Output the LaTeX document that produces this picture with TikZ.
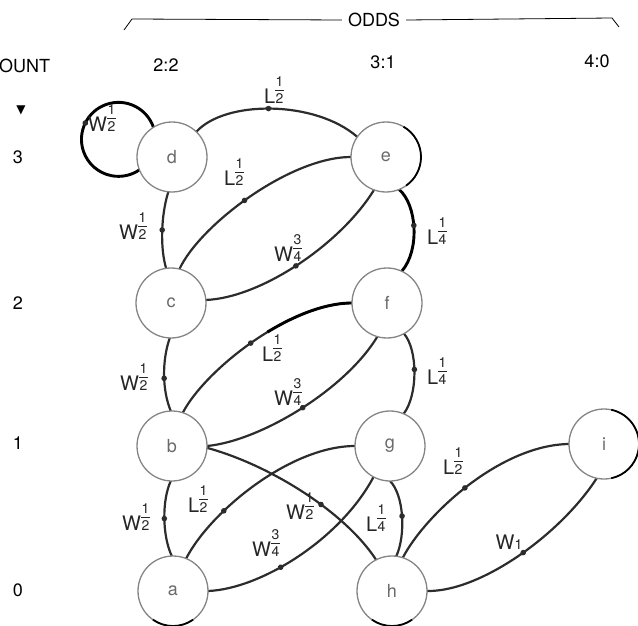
\documentclass[tikz,border=0pt]{standalone}
\usepackage{fontspec}
\setmainfont{TeX Gyre Heros}
\newfontfamily\symfont{DejaVu Sans}
\usetikzlibrary{backgrounds,decorations.markings}
\definecolor{edgec}{HTML}{2C2C2C}
\definecolor{ringc}{HTML}{858585}
\definecolor{txtc}{HTML}{262626}
\definecolor{nodetxt}{HTML}{6A6A6A}
\newcommand\fr[2]{{\fontsize{14}{14}\selectfont\setlength\arrayrulewidth{1.1pt}\setlength\tabcolsep{0.5pt}\begin{tabular}[b]{c}#1\\[-1pt]\hline\rule{0pt}{12pt}#2\end{tabular}}}
\tikzset{
  st/.style={circle, draw=ringc, line width=1.3pt, fill=white, minimum size=70pt,
    inner sep=0pt, outer sep=0pt, font=\fontsize{18}{18}\selectfont, text=nodetxt},
  edge/.style={draw=edgec, line width=2.2pt},
  heavy/.style={draw=black, line width=2.9pt},
  rim/.style={draw=black, line width=1.8pt},
  dotat/.style={postaction={decorate, decoration={markings,
    mark=at position #1 with {\fill[edgec] (0,0) circle (2.8pt);}}}},
  lbl/.style={text=txtc, font=\fontsize{20}{20}\selectfont, inner sep=0pt},
  axis/.style={text=black, font=\fontsize{18}{18}\selectfont, inner sep=0pt},
  brk/.style={draw=black, line width=0.8pt},
}
\begin{document}
\begin{tikzpicture}[x=1pt,y=1pt]
\useasboundingbox (0,0) rectangle (638,-626);
% states
\node[st] (d) at (172,-157) {d};
\node[st] (e) at (386,-157) {e};
\node[st] (c) at (171,-303) {c};
\node[st] (f) at (387,-303) {f};
\node[st] (b) at (172,-446) {b};
\node[st] (g) at (390,-446) {g};
\node[st] (a) at (173,-591) {a};
\node[st] (h) at (392,-591) {h};
\node[st] (i) at (604,-444) {i};
% darker rims
\draw[rim] (e.60) arc[start angle=60,end angle=-55,radius=35];
\draw[rim] (a.235) arc[start angle=235,end angle=305,radius=35];
\draw[rim] (h.235) arc[start angle=235,end angle=305,radius=35];
\draw[rim] (i.78) arc[start angle=78,end angle=-78,radius=35];
% transitions
\begin{scope}[on background layer]
\draw[heavy, dotat=0.47] (d.122) arc[start angle=19,end angle=306,radius=37];
\draw[edge, dotat=0.45] (d.46) .. controls (225,-100) and (315,-100) .. (e.145);
\draw[edge, dotat=0.5] (d.264) .. controls (161,-215) and (160,-248) .. (c.98);
\draw[edge, dotat=0.45] (c.76) .. controls (200,-225) and (290,-157) .. (e.180);
\draw[edge, dotat=0.47] (c.5) .. controls (260,-298) and (340,-245) .. (e.250);
\draw[heavy, dotat=0.45] (e.292) .. controls (417,-205) and (420,-250) .. (f.65);
\draw[edge, dotat=0.47] (b.72) .. controls (205,-370) and (290,-303) .. (f.180);
\draw[heavy, dash pattern=on 0pt off 118pt on 300pt] (b.72) .. controls (205,-370) and (290,-303) .. (f.180);
\draw[edge, dotat=0.5] (b.0) .. controls (260,-441) and (345,-390) .. (f.254);
\draw[edge, dotat=0.55] (c.268) .. controls (162,-360) and (162,-390) .. (b.92);
\draw[edge, dotat=0.45] (f.299) .. controls (418,-350) and (418,-395) .. (g.67);
\draw[edge, dotat=0.62] (b.-3) .. controls (270,-465) and (345,-512) .. (h.117);
\draw[edge, dotat=0.29] (a.68) .. controls (210,-512) and (290,-446) .. (g.180);
\draw[edge, dotat=0.37] (a.0) .. controls (260,-589) and (340,-540) .. (g.242);
\draw[edge, dotat=0.5] (b.268) .. controls (162,-500) and (162,-535) .. (a.92);
\draw[edge, dotat=0.48] (g.270) .. controls (404,-495) and (406,-535) .. (h.83);
\draw[edge, dotat=0.45] (h.72) .. controls (425,-515) and (500,-445) .. (i.180);
\draw[edge, dotat=0.5] (h.0) .. controls (480,-592) and (560,-535) .. (i.258);
\end{scope}
% transition labels
\node[lbl] (l1) at (102,-120) {W\fr{1}{2}};
\node[lbl] (l2) at (274,-92) {L\fr{1}{2}};
\node[lbl] (l3) at (133,-228) {W\fr{1}{2}};
\node[lbl] (l4) at (234,-174) {L\fr{1}{2}};
\node[lbl] (l5) at (288,-250) {W\fr{3}{4}};
\node[lbl] (l6) at (437,-233) {L\fr{1}{4}};
\node[lbl] (l7) at (134,-379) {W\fr{1}{2}};
\node[lbl] (l8) at (272,-350) {L\fr{1}{2}};
\node[lbl] (l9) at (288,-394) {W\fr{3}{4}};
\node[lbl] (l10) at (437,-373) {L\fr{1}{4}};
\node[lbl] (l11) at (136,-519) {W\fr{1}{2}};
\node[lbl] (l12) at (198,-501) {L\fr{1}{2}};
\node[lbl] (l13) at (300,-508) {W\fr{1}{2}};
\node[lbl] (l14) at (266,-545) {W\fr{3}{4}};
\node[lbl] (l15) at (376,-520) {L\fr{1}{4}};
\node[lbl] (l16) at (453,-463) {L\fr{1}{2}};
\node[lbl] (l17) at (509,-542) {W{\fontsize{14}{14}\selectfont 1}};
% axes
\node[axis, anchor=west] (cnt) at (-1,-66) {OUNT};
\node[axis] (arr) at (21,-110) {\symfont\fontsize{12}{12}\selectfont ▼};
\node[axis] (r3) at (18,-157) {3};
\node[axis] (r2) at (18,-303) {2};
\node[axis] (r1) at (18,-443) {1};
\node[axis] (r0) at (18,-590) {0};
\node[axis] (c22) at (166,-65) {2:2};
\node[axis] (c31) at (383,-62) {3:1};
\node[axis] (c40) at (597,-61) {4:0};
\node[axis, inner xsep=6pt] (odds) at (374,-20) {ODDS};
\coordinate (bl) at (124,-30);
\coordinate (blt) at (132,-19);
\coordinate (brt) at (612,-18);
\coordinate (br) at (619,-27);
\draw[brk] (bl) -- (blt) -- (odds.west);
\draw[brk] (odds.east) -- (brt) -- (br);
\end{tikzpicture}
\end{document}
